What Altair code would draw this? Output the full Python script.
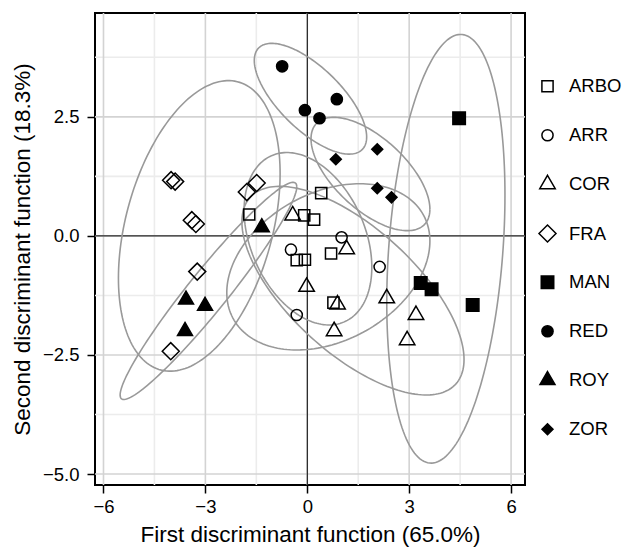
import numpy as np
import pandas as pd
import altair as alt

FONT = "Liberation Sans"

groups = ["ARBO", "ARR", "COR", "FRA", "MAN", "RED", "ROY", "ZOR"]

arbo_x = [0.41, -1.71, -0.09, 0.20, -0.31, -0.07, 0.70, 0.77]
arbo_y = [0.90, 0.45, 0.43, 0.34, -0.51, -0.50, -0.37, -1.40]
arr_x = [1.01, -0.48, 2.13, -0.31]
arr_y = [-0.03, -0.29, -0.65, -1.66]
cor_x = [-0.43, 1.16, -0.02, 0.89, 2.34, 0.79, 3.20, 2.94]
cor_y = [0.43, -0.28, -1.07, -1.44, -1.31, -2.00, -1.66, -2.19]
fra_x = [-4.01, -3.89, -3.40, -3.28, -1.78, -1.49, -3.24, -4.02]
fra_y = [1.17, 1.14, 0.33, 0.25, 0.92, 1.11, -0.75, -2.42]
man_x = [4.47, 3.34, 3.66, 4.87]
man_y = [2.47, -0.99, -1.12, -1.45]
red_x = [-0.74, -0.07, 0.36, 0.87]
red_y = [3.56, 2.64, 2.47, 2.87]
roy_x = [-1.34, -3.57, -3.01, -3.60]
roy_y = [0.18, -1.34, -1.47, -2.00]
zor_x = [0.84, 2.06, 2.06, 2.48]
zor_y = [1.61, 1.82, 1.00, 0.81]

# ellipse per group: centre, half width, half height, rho (tilt)
ell_cx = [0.02, 0.62, 1.345, -3.18, 4.08, 0.094, -2.91, 1.86]
ell_cy = [-0.06, -0.65, -1.15, 0.21, -0.27, 2.88, -1.155, 1.30]
ell_w = [1.88, 2.99, 3.27, 2.38, 1.74, 1.654, 2.60, 1.75]
ell_h = [1.81, 1.745, 2.19, 3.05, 4.50, 1.163, 2.28, 1.19]
ell_rho = [-0.33, 0.31, -0.66, 0.36, 0.25, -0.69, 0.958, -0.62]

x_ticks = [-6, -3, 0, 3, 6]
x_minor = [-4.5, -1.5, 1.5, 4.5]
y_ticks = [-5.0, -2.5, 0.0, 2.5]
y_minor = [-3.75, -1.25, 1.25, 3.75]

TRI = "M0,-1.1547L1,0.5774L-1,0.5774Z"
shapes = ["square", "circle", TRI, "diamond", "square", "circle", TRI, "diamond"]
fills = ["transparent", "transparent", "transparent", "transparent",
         "black", "black", "black", "black"]
sizes = [125, 125, 240, 290, 156, 125, 225, 121]

xs = [arbo_x, arr_x, cor_x, fra_x, man_x, red_x, roy_x, zor_x]
ys = [arbo_y, arr_y, cor_y, fra_y, man_y, red_y, roy_y, zor_y]
pts = pd.concat([pd.DataFrame({"group": g, "x": a, "y": b})
                 for g, a, b in zip(groups, xs, ys)], ignore_index=True)

t = np.linspace(0, 2 * np.pi, 181)
rows = []
for g, cx, cy, w, h, r in zip(groups, ell_cx, ell_cy, ell_w, ell_h, ell_rho):
    ex = cx + w * np.cos(t)
    ey = cy + h * (r * np.cos(t) + np.sqrt(1 - r * r) * np.sin(t))
    rows.append(pd.DataFrame({"group": g, "x": ex, "y": ey, "i": np.arange(len(t))}))
ell = pd.concat(rows, ignore_index=True)

xscale = alt.Scale(domain=[-6.25, 6.41], nice=False, zero=False)
yscale = alt.Scale(domain=[-5.23, 4.68], nice=False, zero=False)

xaxis = alt.Axis(values=x_ticks, format="d", grid=False, domain=False,
                 tickColor="black", tickWidth=1.5, tickSize=8,
                 labelFont=FONT, labelFontSize=18.5, labelColor="black", labelPadding=4,
                 title="First discriminant function (65.0%)", titleFont=FONT,
                 titleFontSize=22.5, titleFontWeight="normal", titleColor="black",
                 titlePadding=8)
yaxis = alt.Axis(values=y_ticks, format=".1f", grid=False, domain=False,
                 tickColor="black", tickWidth=1.5, tickSize=8,
                 labelFont=FONT, labelFontSize=18.5, labelColor="black", labelPadding=8,
                 title="Second discriminant function (18.3%)", titleFont=FONT,
                 titleFontSize=22.5, titleFontWeight="normal", titleColor="black",
                 titlePadding=8)

X = alt.X("x:Q", scale=xscale, axis=xaxis)
Y = alt.Y("y:Q", scale=yscale, axis=yaxis)

vmin = alt.Chart(pd.DataFrame({"x": x_minor})).mark_rule(color="#ececec", strokeWidth=1.6).encode(x=X)
hmin = alt.Chart(pd.DataFrame({"y": y_minor})).mark_rule(color="#ececec", strokeWidth=1.6).encode(y=Y)
vmaj = alt.Chart(pd.DataFrame({"x": x_ticks})).mark_rule(color="#d3d3d3", strokeWidth=1.6).encode(x=X)
hmaj = alt.Chart(pd.DataFrame({"y": y_ticks})).mark_rule(color="#d3d3d3", strokeWidth=1.6).encode(y=Y)
vzero = alt.Chart(pd.DataFrame({"x": [0]})).mark_rule(color="black", strokeWidth=1).encode(x=X)
hzero = alt.Chart(pd.DataFrame({"y": [0]})).mark_rule(color="black", strokeWidth=1).encode(y=Y)

ellipses = alt.Chart(ell).mark_line(color="#999999", strokeWidth=1.6, clip=True).encode(
    x=X, y=Y, detail="group:N", order="i:Q")

legend = alt.Legend(title=None, orient="none", legendX=443, legendY=64,
                    labelFont=FONT, labelFontSize=18.5, labelColor="black",
                    labelOffset=12, rowPadding=24, padding=0, gridAlign="all",
                    symbolStrokeWidth=1.5, symbolOpacity=1)

points = alt.Chart(pts).mark_point(strokeWidth=1.5, opacity=1).encode(
    x=X, y=Y,
    shape=alt.Shape("group:N", scale=alt.Scale(domain=groups, range=shapes), legend=legend),
    fill=alt.Fill("group:N", scale=alt.Scale(domain=groups, range=fills), legend=legend),
    stroke=alt.Stroke("group:N", scale=alt.Scale(domain=groups, range=["black"] * 8), legend=legend),
    size=alt.Size("group:N", scale=alt.Scale(type="ordinal", domain=groups, range=sizes), legend=legend),
)

chart = alt.layer(vmin, hmin, vmaj, hmaj, vzero, hzero, ellipses, points).properties(
    width=430, height=472,
    autosize=alt.AutoSizeParams(type="none"),
    padding={"left": 95, "top": 13, "right": 103, "bottom": 69},
).configure_view(stroke="black", strokeWidth=2)

chart.save("out.html", embed_options={"renderer": "svg", "actions": False})
